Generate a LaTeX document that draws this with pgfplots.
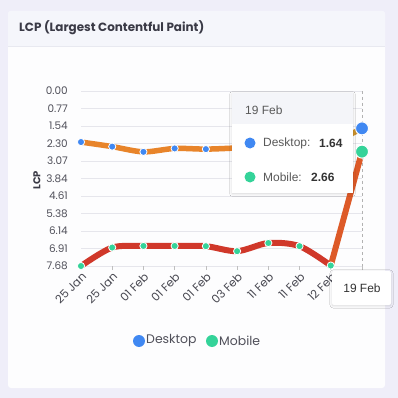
\documentclass[border=0pt]{standalone}
\usepackage{pgfplots}
\usepackage{pgfplotstable}
\pgfplotsset{compat=1.18}
\usepackage{fontspec}
\setmainfont{Poppins}
\newfontfamily\tipfont{Liberation Sans}
\usetikzlibrary{shadows.blur}

\definecolor{outerbg}{RGB}{239,238,249}
\definecolor{cardbg}{RGB}{253,253,254}
\definecolor{headbg}{RGB}{245,246,251}
\definecolor{headline}{RGB}{232,233,240}
\definecolor{titlec}{RGB}{58,58,70}
\definecolor{deskblue}{RGB}{64,136,242}
\definecolor{mobgreen}{RGB}{52,211,153}
\definecolor{lineorange}{RGB}{232,132,42}
\definecolor{linered}{RGB}{208,56,42}
\definecolor{gridc}{RGB}{230,230,236}
\definecolor{labc}{RGB}{80,80,90}
\definecolor{tiphead}{RGB}{244,245,249}

\pgfplotstableread{
x y
0 2.24
1 2.44
2 2.67
3 2.52
4 2.55
5 2.50
6 2.45
7 2.40
8 2.35
9 1.64
}\desktop
\pgfplotstableread{
x y
0 7.68
1 6.87
2 6.80
3 6.80
4 6.81
5 7.03
6 6.67
7 6.81
8 7.66
9 2.66
}\mobile

\begin{document}
\begin{tikzpicture}
% card background
\begin{scope}[x=1bp,y=-1bp,shift={(0,398bp)}]
\fill[outerbg] (0,0) rectangle (398,398);
\fill[cardbg, rounded corners=3bp] (8,11) rectangle (385,388);
\fill[headbg, rounded corners=3bp] (8,11) rectangle (385,46);
\fill[headbg] (8,30) rectangle (385,46);
\draw[headline, line width=0.8bp] (8,46) -- (385,46);
\node[anchor=west, inner sep=0pt, text=titlec, font=\bfseries\fontsize{12}{14}\selectfont] at (19,28) {LCP (Largest Contentful Paint)};
% legend
\fill[deskblue] (139,341) circle (6);
\node[anchor=west, inner sep=0pt, text=labc, font=\fontsize{12.5}{14}\selectfont] at (146,341) {Desktop};
\fill[mobgreen] (212,341) circle (6);
\node[anchor=west, inner sep=0pt, text=labc, font=\fontsize{12.5}{14}\selectfont] at (219,341) {Mobile};
\end{scope}

\begin{axis}[
  at={(81bp,132bp)}, anchor=south west,
  scale only axis, width=281bp, height=175bp,
  xmin=0, xmax=9, ymin=0, ymax=7.68,
  y dir=reverse, clip=false,
  axis line style={draw=none},
  ytick={0,0.768,1.536,2.304,3.072,3.84,4.608,5.376,6.144,6.912,7.68},
  yticklabels={0.00,0.77,1.54,2.30,3.07,3.84,4.61,5.38,6.14,6.91,7.68},
  ymajorgrids, grid style={gridc, line width=0.8bp},
  ytick style={draw=none},
  yticklabel style={font=\fontsize{10.5}{12}\selectfont, text=labc, inner sep=0pt, xshift=-9bp},
  xtick={0,1,2,3,4,5,6,7,8,9},
  xticklabels={25 Jan,25 Jan,01 Feb,01 Feb,01 Feb,03 Feb,11 Feb,11 Feb,12 Feb,{}},
  xtick pos=left, xticklabel pos=left,
  tick align=outside, major tick length=4bp,
  xtick style={gray!50, line width=0.6bp},
  xticklabel style={rotate=45, anchor=north east, font=\fontsize{11.5}{13}\selectfont, text=labc!90!black, inner sep=1bp},
  ylabel={LCP},
  every axis y label/.style={at={(axis description cs:-0.157,0.49)}, rotate=90, anchor=center, font=\bfseries\fontsize{10}{12}\selectfont, text=titlec},
  colormap={lcp}{rgb255(15pt)=(176,160,48) rgb255(25pt)=(232,132,42) rgb255(50pt)=(222,92,40) rgb255(77pt)=(208,56,42)},
  point meta min=1.5, point meta max=7.7,
]
% lines
\addplot[smooth, line width=5.5bp, lineorange] table[x=x,y=y, skip coords between index={9}{10}] {\desktop};
\addplot[mesh, shader=interp, point meta=y, line width=5.5bp] table[x=x,y=y, skip coords between index={0}{8}] {\desktop};
\addplot[smooth, line width=6bp, linered] table[x=x,y=y, skip coords between index={9}{10}] {\mobile};
\addplot[mesh, shader=interp, point meta=y, line width=6bp] table[x=x,y=y, skip coords between index={0}{8}] {\mobile};
% marks
\addplot[only marks, mark=*, mark size=3.6bp, mark options={fill=deskblue, draw=white, line width=0.8bp}] table[x=x,y=y, skip coords between index={9}{10}] {\desktop};
\addplot[only marks, mark=*, mark size=3.6bp, mark options={fill=mobgreen, draw=white, line width=0.8bp}] table[x=x,y=y, skip coords between index={9}{10}] {\mobile};
% axis pointer
\draw[gray!60, dashed, line width=0.6bp] (axis cs:9,0) -- (axis cs:9,7.68);
\addplot[only marks, mark=*, mark size=6.5bp, mark options={fill=deskblue, draw=white, line width=1bp}] table[x=x,y=y, skip coords between index={0}{9}] {\desktop};
\addplot[only marks, mark=*, mark size=6.5bp, mark options={fill=mobgreen, draw=white, line width=1bp}] table[x=x,y=y, skip coords between index={0}{9}] {\mobile};
\end{axis}

% tooltip and pointer label
\begin{scope}[x=1bp,y=-1bp,shift={(0,398bp)}]
\fill[tiphead, blur shadow={shadow blur steps=6, shadow xshift=0bp, shadow yshift=-1bp, shadow opacity=15}] (232,93) rectangle (353,193);
\fill[white] (232,124) rectangle (353,193);
\node[anchor=west, inner sep=0pt, text=gray!70!black, font=\tipfont\fontsize{12}{14}\selectfont] at (245,110) {19 Feb};
\fill[deskblue] (250,143) circle (5.5);
\node[anchor=west, inner sep=0pt, text=gray!70!black, font=\tipfont\fontsize{12}{14}\selectfont] at (263,143) {Desktop:};
\node[anchor=west, inner sep=0pt, text=black!80, font=\tipfont\bfseries\fontsize{12}{14}\selectfont] at (319,143) {1.64};
\fill[mobgreen] (250,177) circle (5.5);
\node[anchor=west, inner sep=0pt, text=gray!70!black, font=\tipfont\fontsize{12}{14}\selectfont] at (263,177) {Mobile:};
\node[anchor=west, inner sep=0pt, text=black!80, font=\tipfont\bfseries\fontsize{12}{14}\selectfont] at (311,177) {2.66};
\fill[white, rounded corners=2bp, blur shadow={shadow blur steps=6, shadow xshift=0bp, shadow yshift=-1bp, shadow opacity=15}] (332,271) rectangle (391,305);
\node[inner sep=0pt, text=black!80, font=\tipfont\fontsize{12}{14}\selectfont] at (362,288) {19 Feb};
\end{scope}
\end{tikzpicture}
\end{document}
